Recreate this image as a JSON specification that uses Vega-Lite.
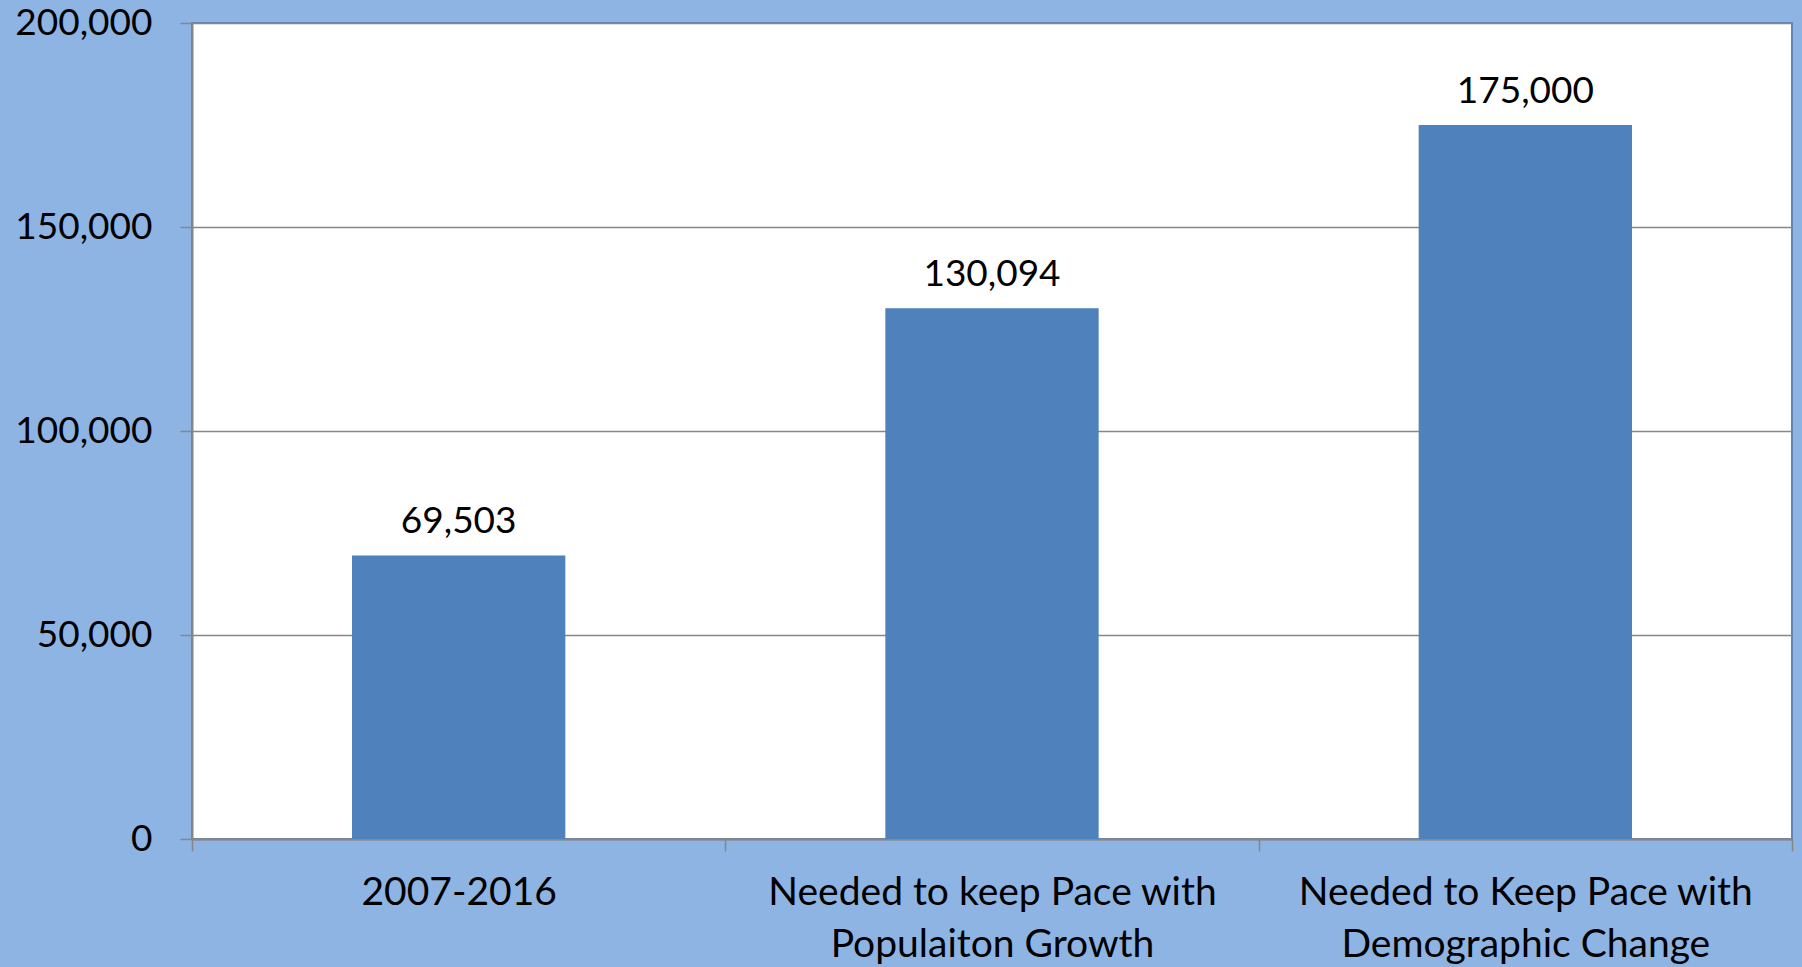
{
  "$schema": "https://vega.github.io/schema/vega-lite/v6.json",
  "width": 1600,
  "height": 816,
  "autosize": "none",
  "padding": {"left": 192, "top": 23, "right": 10, "bottom": 128},
  "background": "#8EB4E3",
  "view": {"fill": "#FFFFFF", "stroke": "#5F86BA", "strokeWidth": 2},
  "config": {
    "font": "Lato",
    "axis": {"labelFont": "Lato", "labelFontSize": 37, "labelColor": "#000000", "domainColor": "#868686", "domainWidth": 2, "tickColor": "#868686", "tickWidth": 1.5, "tickSize": 12, "gridColor": "#868686", "gridWidth": 1.5}
  },
  "data": {
    "values": [
      {"category": "2007-2016", "value": 69503},
      {"category": "Needed to keep Pace with Populaiton Growth", "value": 130094},
      {"category": "Needed to Keep Pace with Demographic Change", "value": 175000}
    ]
  },
  "encoding": {
    "x": {
      "field": "category",
      "type": "nominal",
      "sort": null,
      "scale": {"paddingInner": 0, "paddingOuter": 0},
      "axis": {
        "title": null,
        "labelAngle": 0,
        "tickBand": "extent",
        "labelFontSize": 39,
        "labelPadding": 22,
        "labelLineHeight": 52,
        "labelLimit": 0,
        "labelExpr": "indexof(datum.label, ' with ') > 0 ? [slice(datum.label, 0, indexof(datum.label, ' with ') + 5), slice(datum.label, indexof(datum.label, ' with ') + 6)] : datum.label"
      }
    },
    "y": {
      "field": "value",
      "type": "quantitative",
      "scale": {"domain": [0, 200000]},
      "axis": {"title": null, "values": [0, 50000, 100000, 150000, 200000], "format": ",d", "labelPadding": 28, "grid": true}
    }
  },
  "layer": [
    {"mark": {"type": "bar", "color": "#4F81BD", "width": {"band": 0.4}}},
    {
      "mark": {"type": "text", "font": "Lato", "fontSize": 37, "color": "#000000", "baseline": "alphabetic", "dy": -22},
      "encoding": {"text": {"field": "value", "type": "quantitative", "format": ",d"}}
    }
  ]
}
